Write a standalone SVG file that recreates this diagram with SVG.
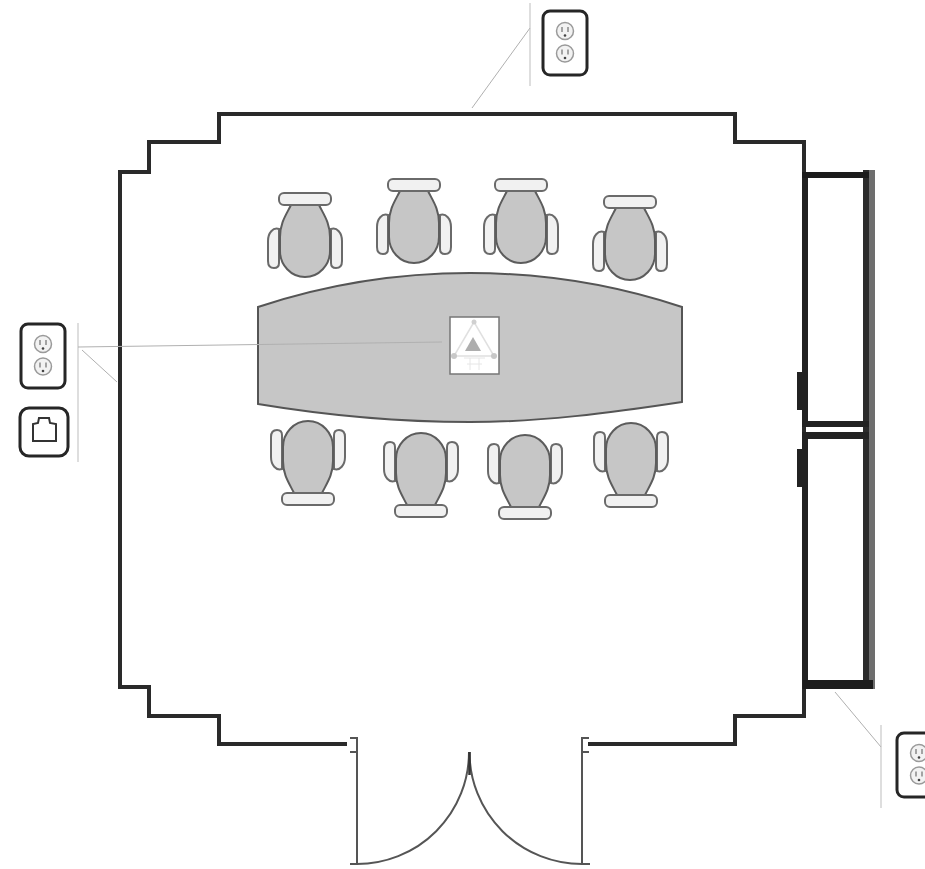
<svg xmlns="http://www.w3.org/2000/svg" xmlns:xlink="http://www.w3.org/1999/xlink" width="925" height="869" viewBox="0 0 925 869">
<style>
.wall{fill:none;stroke:#2a2a2a;stroke-width:4;stroke-linejoin:miter}
.thin{fill:none;stroke:#b0b0b0;stroke-width:1}
.dot{fill:none;stroke:#bdbdbd;stroke-width:1}
.door{fill:none;stroke:#555;stroke-width:2}
.seat{fill:#c6c6c6;stroke:#5c5c5c;stroke-width:2}
.pad{fill:#f1f1f1;stroke:#6a6a6a;stroke-width:2}
.plate{fill:#fff;stroke:#262626;stroke-width:3}
.face{fill:#f2f2f2;stroke:#9a9a9a;stroke-width:1.500}
.slot{fill:none;stroke:#555;stroke-width:1}
</style>
<defs>
<g id="chair">
<path class="pad" d="M-26 36C-32 34-37 40-37 48V68C-37 74-34 75-31 75C-28 75-26 74-26 70Z"/>
<path class="pad" d="M26 36C32 34 37 40 37 48V68C37 74 34 75 31 75C28 75 26 74 26 70Z"/>
<path class="seat" d="M-14 12C-19 22-25 30-25 44V58C-25 72-14 84 0 84C14 84 25 72 25 58V44C25 30 19 22 14 12Z"/>
<rect class="pad" x="-26" y="0" width="52" height="12" rx="5"/>
</g>
<g id="face">
<circle class="face" cx="0" cy="0" r="8.500"/>
<path class="slot" d="M-3-4V1M3-4V1"/>
<circle cx="0" cy="4.500" r="1.300" fill="#444"/>
</g>
<g id="outlet">
<rect class="plate" x="0" y="0" width="44" height="64" rx="7"/>
<use xlink:href="#face" x="22" y="20"/>
<use xlink:href="#face" x="22" y="42.500"/>
</g>
</defs>
<g id="room">
<path class="wall" d="M347 744H219V716H149V687H120V172H149V142H219V114H735V142H804V172V685M804 685V716H735V744H588"/>
<path class="door" d="M350 738H357V864M350 752H357M350 864H357A112 112 0 0 0 469 752M590 864H582A112.500 112 0 0 1 469.500 752M589 738H582V864M589 752H582"/>
<path d="M469.500 752V775" stroke="#333" stroke-width="2.500"/>
</g>
<g id="window">
<rect x="869" y="170" width="6" height="519" fill="#6e6e6e"/>
<rect x="863" y="170" width="6" height="519" fill="#2b2b2b"/>
<rect x="802" y="172" width="6" height="255" fill="#222"/>
<rect x="802" y="432" width="6" height="257" fill="#222"/>
<rect x="802" y="172" width="67" height="6" fill="#1c1c1c"/>
<rect x="806" y="421" width="63" height="6" fill="#222"/>
<rect x="806" y="432" width="63" height="7" fill="#222"/>
<rect x="803" y="680" width="70" height="9" fill="#1c1c1c"/>
<rect x="797" y="372" width="9" height="38" fill="#222"/>
<rect x="797" y="449" width="9" height="38" fill="#222"/>
</g>
<g id="table">
<path d="M258 307C330 283 400 273 470 273C540 273 610 283 682 307V402C610 413 540 422 470 422C400 422 330 416 258 404Z" fill="#c6c6c6" stroke="#555" stroke-width="2"/>
</g>
<g id="table-device">
<rect x="450" y="317" width="49" height="57" fill="#fff" stroke="#777" stroke-width="1.500"/>
<path d="M474 322L454 356H494Z" fill="none" stroke="#e0e0e0" stroke-width="1.500"/>
<path d="M473 337L465 351H481Z" fill="#aeaeae"/>
<circle cx="454" cy="356" r="3" fill="#c8c8c8"/>
<circle cx="494" cy="356" r="3" fill="#c8c8c8"/>
<circle cx="474" cy="322" r="2.500" fill="#d0d0d0"/>
<path d="M464 358H485M467 364H482M470 358V370M479 358V370" stroke="#e6e6e6" fill="none"/>
</g>
<g id="connectors">
<path class="thin" d="M530 28L472 108"/>
<path class="dot" d="M530 3V86"/>
<path class="dot" d="M78 323V462"/>
<path class="thin" d="M78 347L442 342"/>
<path class="thin" d="M82 350L117 382"/>
<path class="thin" d="M835 692L881 747"/>
<path class="dot" d="M881 725V808"/>
</g>
<g id="chair-1"><use xlink:href="#chair" transform="translate(305 193)"/></g>
<g id="chair-2"><use xlink:href="#chair" transform="translate(414 179)"/></g>
<g id="chair-3"><use xlink:href="#chair" transform="translate(521 179)"/></g>
<g id="chair-4"><use xlink:href="#chair" transform="translate(630 196)"/></g>
<g id="chair-5"><use xlink:href="#chair" transform="translate(308 505) scale(1 -1)"/></g>
<g id="chair-6"><use xlink:href="#chair" transform="translate(421 517) scale(1 -1)"/></g>
<g id="chair-7"><use xlink:href="#chair" transform="translate(525 519) scale(1 -1)"/></g>
<g id="chair-8"><use xlink:href="#chair" transform="translate(631 507) scale(1 -1)"/></g>
<g id="outlet-top"><use xlink:href="#outlet" x="543" y="11"/></g>
<g id="outlet-left"><use xlink:href="#outlet" x="21" y="324"/></g>
<g id="outlet-right"><use xlink:href="#outlet" x="897" y="733"/></g>
<g id="data-jack">
<rect x="20" y="408" width="48" height="48" rx="9" fill="#fff" stroke="#262626" stroke-width="3"/>
<path d="M33 441V424L38 423L39 418H49L50 423L56 424V441Z" fill="#fff" stroke="#333" stroke-width="2"/>
</g>
</svg>
